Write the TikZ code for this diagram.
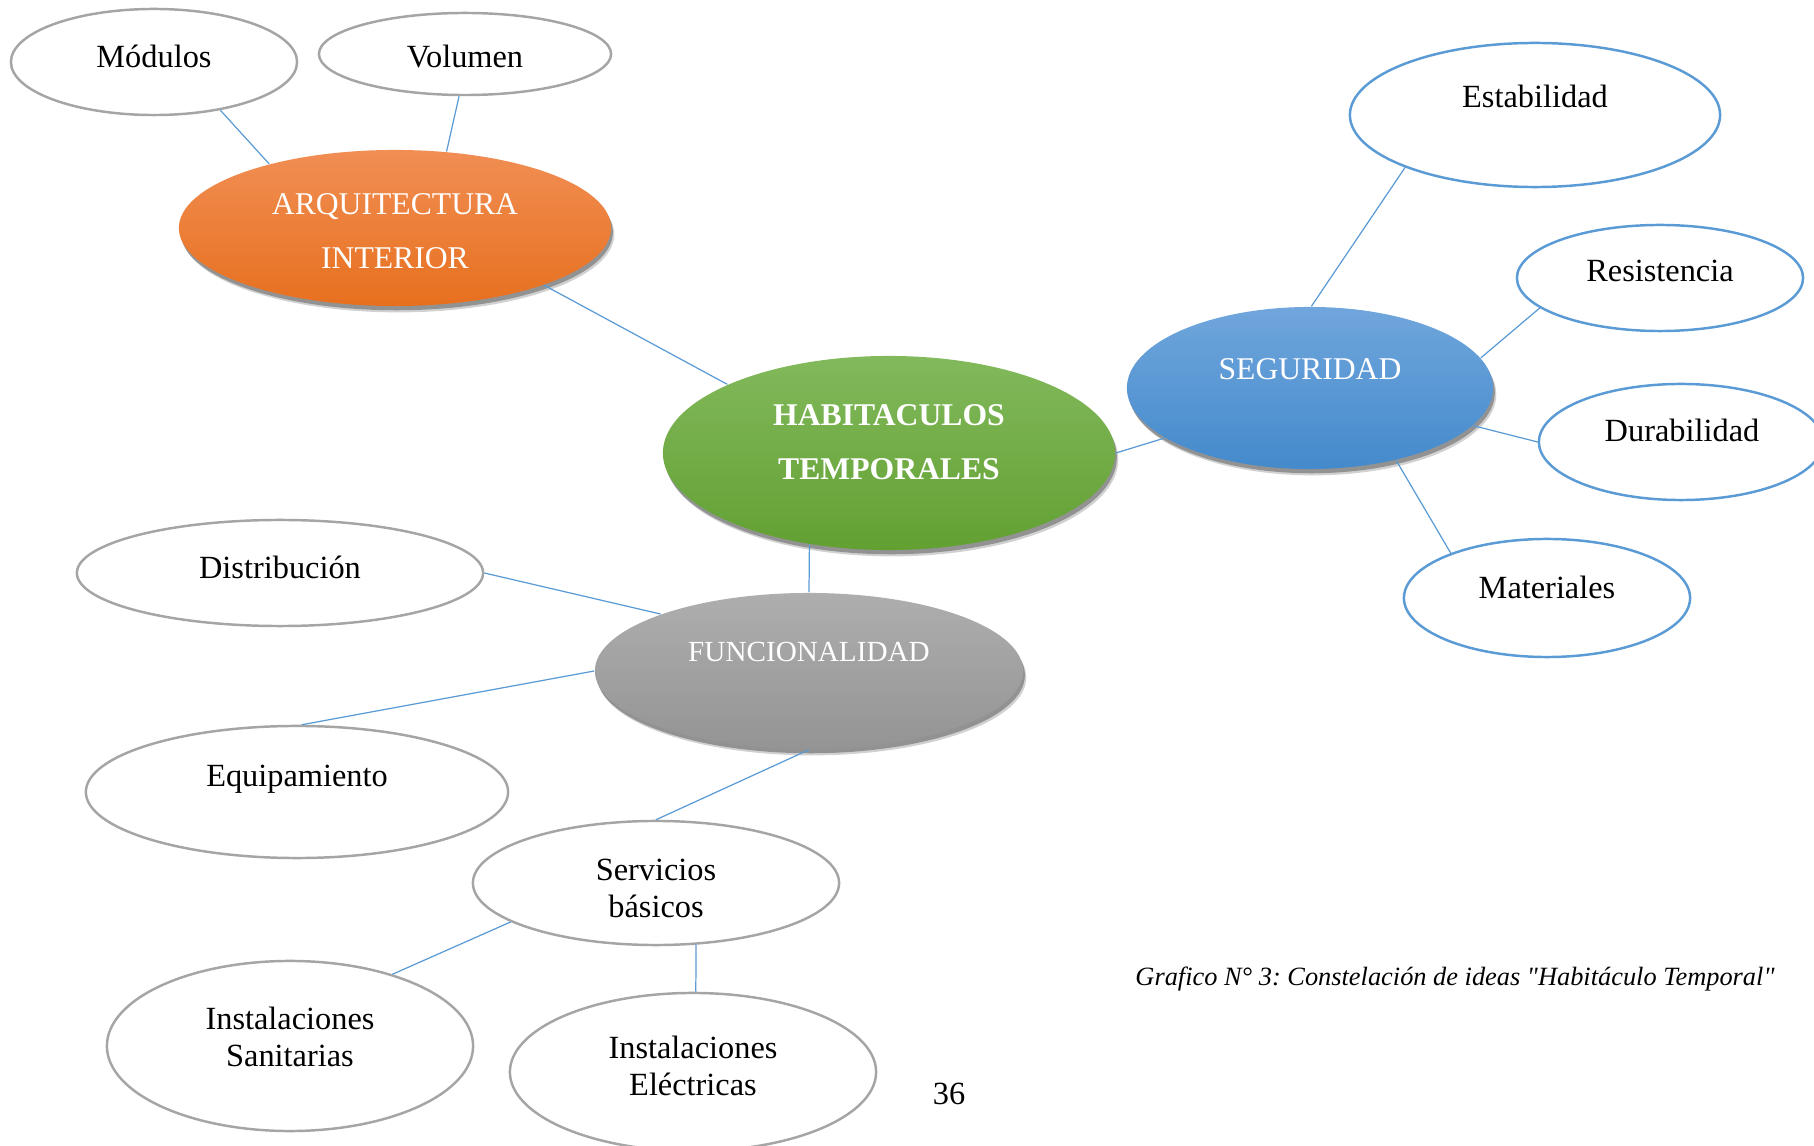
\documentclass[tikz,border=0pt]{standalone}
\usepackage{fontspec}
\setmainfont{Liberation Serif}[Ligatures=TeXOff]
\usetikzlibrary{shapes.geometric,shadows}
\frenchspacing

\definecolor{conector}{RGB}{91,155,213}
\definecolor{borde}{RGB}{165,165,165}
\definecolor{naranjaA}{RGB}{241,142,84}
\definecolor{naranjaB}{RGB}{231,112,30}
\definecolor{verdeA}{RGB}{130,185,92}
\definecolor{verdeB}{RGB}{98,160,50}
\definecolor{azulA}{RGB}{112,166,220}
\definecolor{azulB}{RGB}{68,138,204}
\definecolor{grisA}{RGB}{174,174,174}
\definecolor{grisB}{RGB}{148,148,148}

\tikzset{
	hoja/.style = { ellipse, draw = borde, line width = 0.7pt, fill = white },
	hojaazul/.style = { ellipse, draw = conector, line width = 0.7pt, fill = white },
	eje/.style = { ellipse, draw = none,
		drop shadow={shadow xshift=0.9pt,shadow yshift=-1.8pt,fill=black,opacity=0.18},
		drop shadow={shadow xshift=0.5pt,shadow yshift=-1.2pt,fill=black,opacity=0.3} },
	linea/.style = { draw = conector, line width = 0.35pt },
	texto/.style = { font = \fontsize{9.2}{10.5}\selectfont, align = center, inner sep = 0pt },
	titulo/.style = { font = \fontsize{9}{15.5}\selectfont, align = center, inner sep = 0pt, text = white }
}

\begin{document}
\begin{tikzpicture}[ x = 0.01cm, y = -0.01cm ]
	\useasboundingbox ( 0, 0 ) rectangle ( 1814, 1146 );
	\clip ( 0, 0 ) rectangle ( 1814, 1146 );

	% ideas principales
	\node [ eje, top color = naranjaA, bottom color = naranjaB, minimum width = 4.32cm, minimum height = 1.56cm ] (arq) at ( 395, 228 ) {};
	\node [ titulo ] (arq-t) at ( 395, 231 ) {ARQUITECTURA\\INTERIOR};
	\node [ eje, top color = verdeA, bottom color = verdeB, minimum width = 4.52cm, minimum height = 1.94cm ] (hab) at ( 889, 453 ) {};
	\node [ titulo, font = \fontsize{9}{15.5}\selectfont\bfseries ] (hab-t) at ( 889, 442 ) {HABITACULOS\\TEMPORALES};
	\node [ eje, top color = azulA, bottom color = azulB, minimum width = 3.66cm, minimum height = 1.62cm ] (seg) at ( 1310, 388 ) {};
	\node [ titulo ] (seg-t) at ( 1310, 369 ) {SEGURIDAD};
	\node [ eje, top color = grisA, bottom color = grisB, minimum width = 4.28cm, minimum height = 1.56cm ] (fun) at ( 809, 671 ) {};
	\node [ titulo, font = \fontsize{8.3}{10}\selectfont ] (fun-t) at ( 809, 652 ) {FUNCIONALIDAD};

	% arquitectura interior
	\node [ hoja, minimum width = 2.86cm, minimum height = 1.06cm ] (mod) at ( 154, 62 ) {};
	\node [ texto ] (mod-t) at ( 154, 56 ) {Módulos};
	\node [ hoja, minimum width = 2.92cm, minimum height = 0.82cm ] (vol) at ( 465, 54 ) {};
	\node [ texto ] (vol-t) at ( 465, 57 ) {Volumen};

	% seguridad
	\node [ hojaazul, minimum width = 3.70cm, minimum height = 1.44cm ] (est) at ( 1535, 115 ) {};
	\node [ texto ] (est-t) at ( 1535, 96 ) {Estabilidad};
	\node [ hojaazul, minimum width = 2.86cm, minimum height = 1.06cm ] (res) at ( 1660, 278 ) {};
	\node [ texto ] (res-t) at ( 1660, 271 ) {Resistencia};
	\node [ hojaazul, minimum width = 2.84cm, minimum height = 1.16cm ] (dur) at ( 1681, 442 ) {};
	\node [ texto ] (dur-t) at ( 1682, 430 ) {Durabilidad};
	\node [ hojaazul, minimum width = 2.86cm, minimum height = 1.18cm ] (mat) at ( 1547, 598 ) {};
	\node [ texto ] (mat-t) at ( 1547, 587 ) {Materiales};

	% funcionalidad
	\node [ hoja, minimum width = 4.06cm, minimum height = 1.06cm ] (dis) at ( 280, 573 ) {};
	\node [ texto ] (dis-t) at ( 280, 567 ) {Distribución};
	\node [ hoja, minimum width = 4.22cm, minimum height = 1.32cm ] (equ) at ( 297, 792 ) {};
	\node [ texto ] (equ-t) at ( 297, 779 ) {Equipamiento};
	\node [ hoja, minimum width = 3.66cm, minimum height = 1.24cm ] (ser) at ( 656, 883 ) {};
	\node [ texto ] (ser-t) at ( 656, 888 ) {Servicios\\básicos};
	\node [ hoja, minimum width = 3.66cm, minimum height = 1.70cm ] (san) at ( 290, 1046 ) {};
	\node [ texto ] (san-t) at ( 290, 1037 ) {Instalaciones\\Sanitarias};
	\node [ hoja, minimum width = 3.66cm, minimum height = 1.58cm ] (ele) at ( 693, 1072 ) {};
	\node [ texto ] (ele-t) at ( 693, 1066 ) {Instalaciones\\Eléctricas};

	% conectores
	\draw [ linea ] (mod.-36) -- (arq.153);
	\draw [ linea ] (vol.-98) -- (arq.56);
	\draw [ linea ] (arq.-21) -- (hab.157);
	\draw [ linea ] (hab.0.5) -- (seg.-161);
	\draw [ linea ] (seg.89) -- (est.-158);
	\draw [ linea ] (seg.10) -- (res.-166);
	\draw [ linea ] (seg.-13) -- (dur.180);
	\draw [ linea ] (seg.-40) -- (mat.155);
	\draw [ linea ] (hab.-131) -- (fun.90);
	\draw [ linea ] (fun.159.5) -- (dis.0);
	\draw [ linea ] (fun.180) -- (equ.86.5);
	\draw [ linea ] (fun.-90) -- (ser.90);
	\draw [ linea ] (ser.-165) -- (san.35);
	\draw [ linea ] (ser.-57) -- (ele.88);

	% pie de grafico
	\node [ inner sep = 0pt, font = \fontsize{7.5}{9}\selectfont\itshape ] (pie) at ( 1455, 979 ) {Grafico N° 3: Constelación de ideas "Habitáculo Temporal"};
	\node [ texto ] (pag) at ( 949, 1094 ) {36};
\end{tikzpicture}
\end{document}
